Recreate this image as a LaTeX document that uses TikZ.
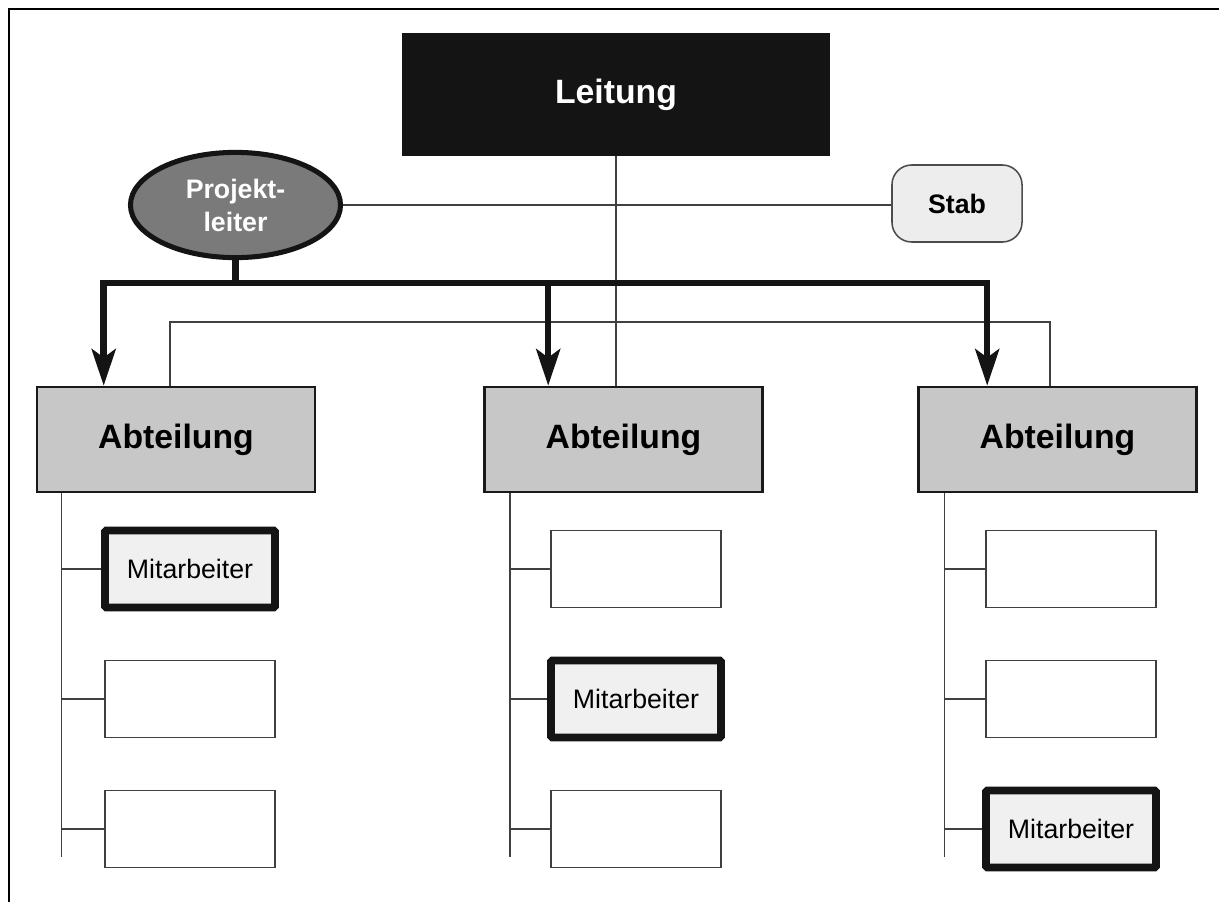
\documentclass[tikz,border=0pt]{standalone}
\usepackage{fontspec}
\setmainfont{Liberation Sans}
\usetikzlibrary{shapes.geometric, arrows.meta, positioning, calc}

\begin{document}
\begin{tikzpicture}[x=0.025cm, y=-0.025cm,
    leitung/.style={draw=black!92, fill=black!92, rectangle, line width=0.8pt, minimum width=10.65cm, minimum height=3.025cm, font=\fontsize{24}{28}\selectfont\bfseries, text=white},
    pleiter/.style={draw=black!92, fill=black!52, ellipse, line width=3.6pt, inner sep=0pt, minimum width=5.25cm, minimum height=2.63cm, align=center, font=\fontsize{19}{23.4}\selectfont\bfseries, text=white},
    stab/.style={draw=black!70, fill=black!7, rectangle, rounded corners=14pt, line width=1.1pt, minimum width=3.25cm, minimum height=1.925cm, font=\fontsize{19}{23}\selectfont\bfseries},
    abteilung/.style={draw=black!90, fill=black!22, rectangle, line width=1.8pt, minimum width=6.95cm, minimum height=2.625cm, font=\fontsize{24}{28}\selectfont\bfseries},
    stelle/.style={draw=black!75, fill=white, rectangle, line width=1pt, minimum width=4.25cm, minimum height=1.925cm, font=\fontsize{19}{23}\selectfont},
    mitarbeiter/.style={stelle, draw=black!92, fill=black!6, line width=5.5pt, rounded corners=1pt},
    line/.style={draw=black!75, line width=1pt},
    bus/.style={draw=black!92, line width=4.6pt},
    busarrow/.style={bus, -{Stealth[length=26pt, width=17pt, inset=6pt]}},
    frame/.style={draw=black, line width=1.6pt}
]
\useasboundingbox (0,0) rectangle (1219,902);

% Rahmen (nur oben und links sichtbar)
\draw[frame] (9,902) -- (9,9) -- (1219,9);

% Leitung, Projektleiter, Stab
\node[leitung] (leitung) at (616,94.5) {Leitung};
\node[pleiter] (pl) at (235.5,205) {Projekt-\\leiter};
\node[stab] (stab) at (957,203.5) {Stab};

% Abteilungen
\node[abteilung] (abt1) at (176,439.5) {Abteilung};
\node[abteilung] (abt2) at (623.5,439.5) {Abteilung};
\node[abteilung] (abt3) at (1057.5,439.5) {Abteilung};

% Stellen unter Abteilung 1
\node[mitarbeiter] (st11) at (190,569) {Mitarbeiter};
\node[stelle] (st12) at (190,699) {};
\node[stelle] (st13) at (190,829) {};

% Stellen unter Abteilung 2
\node[stelle] (st21) at (636,569) {};
\node[mitarbeiter] (st22) at (636,699) {Mitarbeiter};
\node[stelle] (st23) at (636,829) {};

% Stellen unter Abteilung 3
\node[stelle] (st31) at (1071,569) {};
\node[stelle] (st32) at (1071,699) {};
\node[mitarbeiter] (st33) at (1071,829) {Mitarbeiter};

% Hilfspunkte
\coordinate (busM) at (235.5,283);
\coordinate (a1) at ($(abt1.north west)+(68,0)$);
\coordinate (a2) at ($(abt2.north west)+(65,0)$);
\coordinate (a3) at ($(abt3.north west)+(70,0)$);
\coordinate (s1) at (170,322);
\coordinate (s3) at (1050,322);

% Linien Leitung / Stab
\draw[line] (leitung.south) -- (leitung.south |- abt2.north);
\draw[line] (pl.east) -- (pl.east -| stab.west);
\draw[line] (abt1.north -| s1) |- (s3) -- (abt3.north -| s3);

% Projektleiter -> Abteilungen
\draw[bus] (pl.south) -- (busM);
\draw[busarrow] (busM) -| (a1);
\draw[busarrow] (busM) -| (a3);
\draw[busarrow] (busM -| a2) -- (a2);

% Abteilungen -> Stellen
\draw[line] ($(abt1.south west)+(26,0)$) coordinate (v1) -- ++(0,364);
\draw[line] ($(abt2.south west)+(27,0)$) coordinate (v2) -- ++(0,364);
\draw[line] ($(abt3.south west)+(27,0)$) coordinate (v3) -- ++(0,364);

\draw[line] (v1 |- st11.west) -- (st11.west);
\draw[line] (v1 |- st12.west) -- (st12.west);
\draw[line] (v1 |- st13.west) -- (st13.west);
\draw[line] (v2 |- st21.west) -- (st21.west);
\draw[line] (v2 |- st22.west) -- (st22.west);
\draw[line] (v2 |- st23.west) -- (st23.west);
\draw[line] (v3 |- st31.west) -- (st31.west);
\draw[line] (v3 |- st32.west) -- (st32.west);
\draw[line] (v3 |- st33.west) -- (st33.west);

\end{tikzpicture}
\end{document}
